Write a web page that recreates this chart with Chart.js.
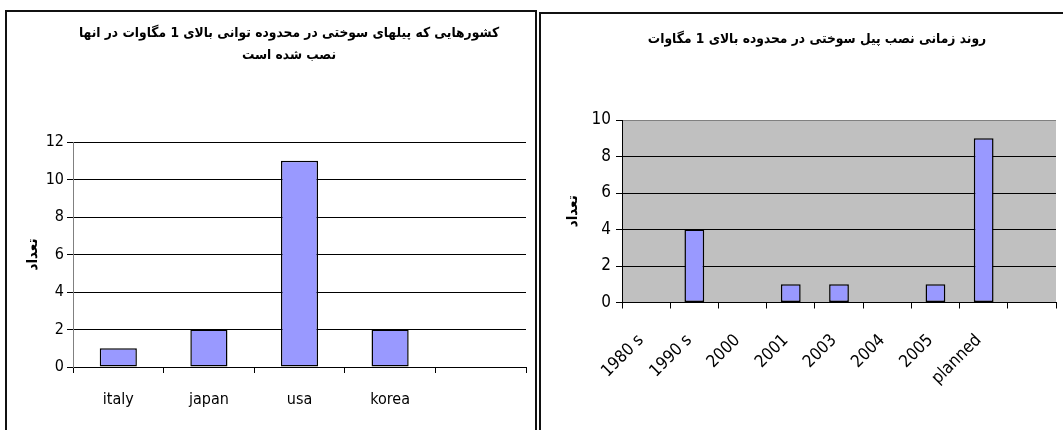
<!DOCTYPE html>
<html>
<head>
<meta charset="utf-8">
<script src="https://cdn.jsdelivr.net/npm/chart.js@4.4.1/dist/chart.umd.min.js"></script>
<style>
  html, body { margin: 0; padding: 0; background: #fff; overflow: hidden; width: 1063px; height: 430px; }
  .frame { position: absolute; box-sizing: border-box; border: 2px solid #111; background: transparent; }
  .holder { position: absolute; }
</style>
</head>
<body>
<div class="frame" style="left:5px; top:10px; width:532px; height:440px;"></div>
<div class="frame" style="left:539px; top:12px; width:600px; height:440px;"></div>
<div class="holder" style="left:8px; top:13px; width:562px; height:417px;"><canvas id="countries"></canvas></div>
<div class="holder" style="left:541px; top:14px; width:552px; height:416px;"><canvas id="timeline"></canvas></div>

<script>
'use strict';

// left chart: countries
var countryLabels = ['italy', 'japan', 'usa', 'korea', ''];
var countryValues = [1, 2, 11, 2, null];
var countryTitle = ['کشورهایی که پیلهای سوختی در محدوده توانی بالای 1 مگاوات در انها', 'نصب شده است'];

// right chart: installs over time
var yearLabels = ['1980 s', '1990 s', '2000', '2001', '2003', '2004', '2005', 'planned', ''];
var yearValues = [0, 4, 0, 1, 1, 0, 1, 9, null];
var yearTitle = 'روند زمانی نصب پیل سوختی در محدوده بالای 1 مگاوات';

var axisTitle = 'تعداد';

var narrow = "'DejaVu Sans Condensed', 'Liberation Sans Narrow', 'Liberation Sans', sans-serif";
var bold = "'DejaVu Sans Condensed', 'DejaVu Sans', sans-serif";

// gray plot background for the right chart
var plotBg = {
  id: 'plotBg',
  beforeDraw: function (chart, args, opts) {
    if (!opts.color) return;
    var a = chart.chartArea;
    var ctx = chart.ctx;
    ctx.save();
    ctx.fillStyle = opts.color;
    ctx.fillRect(a.left, a.top, a.right - a.left, a.bottom - a.top);
    ctx.restore();
  }
};

function barChart(id, o) {
  var canvas = document.getElementById(id);
  return new Chart(canvas.getContext('2d'), {
    type: 'bar',
    data: {
      labels: o.labels,
      datasets: [{
        data: o.values,
        backgroundColor: '#9999FF',
        borderColor: '#000',
        borderWidth: 1.5,
        borderSkipped: false,
        categoryPercentage: 1,
        barPercentage: 0.41
      }]
    },
    options: {
      responsive: true,
      maintainAspectRatio: false,
      animation: false,
      layout: { padding: 0 },
      plugins: {
        legend: { display: false },
        tooltip: { enabled: false },
        plotBg: { color: o.bg },
        title: {
          display: true,
          text: o.title,
          color: '#000',
          font: { family: bold, size: o.titleSize, weight: 'bold', lineHeight: 22 / o.titleSize },
          padding: { top: o.titleTop, bottom: o.titleBottom }
        }
      },
      scales: {
        x: {
          offset: true,
          afterFit: function (s) { s.height = o.xHeight; },
          grid: { offset: true, drawOnChartArea: false, drawTicks: true, tickLength: 6, color: '#000' },
          border: { color: '#000', width: 1 },
          ticks: {
            color: '#000',
            font: { family: narrow, size: o.xFont },
            padding: o.xPad,
            labelOffset: o.xShift,
            autoSkip: false,
            minRotation: o.rot,
            maxRotation: o.rot
          }
        },
        y: {
          min: 0,
          max: o.max,
          afterFit: function (s) { s.width = o.yWidth; },
          grid: {
            color: function (c) { return c.tick && c.tick.value === o.max && o.bg ? '#808080' : '#000'; },
            tickLength: 6,
            tickColor: '#000'
          },
          border: { color: o.bg ? '#000' : '#808080', width: 1 },
          ticks: {
            stepSize: 2,
            color: '#000',
            padding: o.yPad,
            font: { family: narrow, size: o.yFont }
          },
          title: {
            display: true,
            text: axisTitle,
            color: '#000',
            font: { family: bold, size: 15, weight: 'bold' },
            padding: { top: o.yTitleTop, bottom: 0 }
          }
        },
        // empty spacer on the right so the title centres like the original
        pad: {
          type: 'linear',
          position: 'right',
          display: true,
          afterFit: function (s) { s.width = o.rightGap; },
          grid: { display: false },
          border: { display: false },
          ticks: { display: false }
        }
      }
    },
    plugins: [plotBg]
  });
}

barChart('countries', {
  labels: countryLabels,
  values: countryValues,
  title: countryTitle,
  titleSize: 13.7,
  max: 12,
  titleTop: 9,
  titleBottom: 76,
  xHeight: 63,
  xPad: 17,
  xShift: 0,
  xFont: 16,
  rot: 0,
  yWidth: 65,
  yPad: 3,
  yFont: 16,
  yTitleTop: 16,
  rightGap: 44,
  bg: null
});

barChart('timeline', {
  labels: yearLabels,
  values: yearValues,
  title: yearTitle,
  titleSize: 13.7,
  max: 10,
  titleTop: 14,
  titleBottom: 70,
  xHeight: 127.5,
  xPad: 22,
  xShift: -5,
  xFont: 17,
  rot: 45,
  yWidth: 81,
  yPad: 5,
  yFont: 17,
  yTitleTop: 23,
  rightGap: 37,
  bg: '#C0C0C0'
});
</script>
</body>
</html>
